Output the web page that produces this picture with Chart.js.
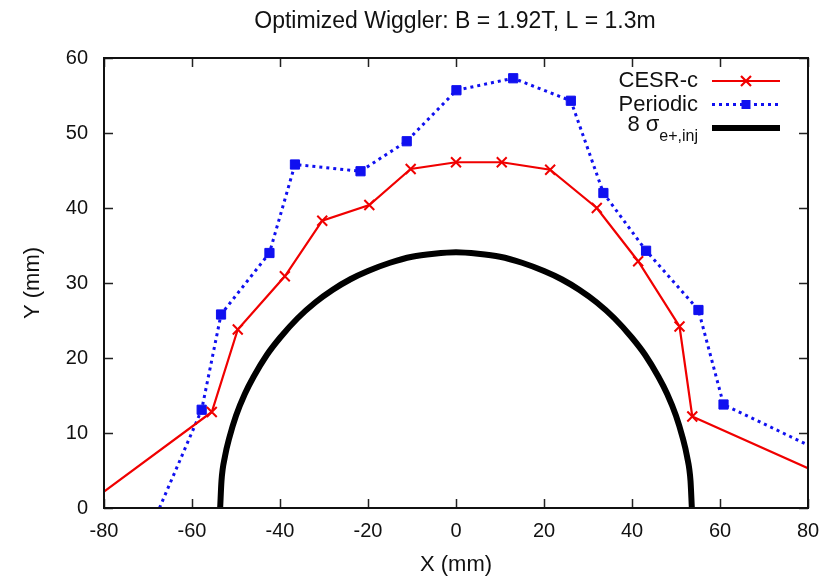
<!DOCTYPE html>
<html>
<head>
<meta charset="utf-8">
<script src="https://cdn.jsdelivr.net/npm/chart.js@4/dist/chart.umd.min.js"></script>
<style>
  html, body { margin: 0; padding: 0; background: #fff; }
  #wrap { width: 827px; height: 578px; position: relative; }
</style>
</head>
<body>
<div id="wrap"><canvas id="c" width="827" height="578"></canvas></div>
<script>
// ---- data ----
const titleText = 'Optimized Wiggler: B = 1.92T, L = 1.3m';
const xAxisTitle = 'X (mm)';
const yAxisTitle = 'Y (mm)';
const legendLabels = ['CESR-c', 'Periodic', '8 σ'];
const legendSub = 'e+,inj';

const cesrX = [-80, -55.5, -49.6, -38.9, -30.4, -19.7, -10.3, 0, 10.4, 21.4, 32.0, 41.4, 50.8, 53.7, 80];
const cesrY = [2.2, 12.8, 23.8, 30.9, 38.3, 40.4, 45.2, 46.1, 46.1, 45.1, 40.0, 32.9, 24.2, 12.2, 5.3];
const cesrMarker = [0, 1, 1, 1, 1, 1, 1, 1, 1, 1, 1, 1, 1, 1, 0];

const periodicX = [-67.4, -57.8, -53.4, -42.4, -36.6, -21.7, -11.2, 0.1, 13.0, 26.1, 33.5, 43.2, 55.1, 60.8, 80];
const periodicY = [0, 13.1, 25.8, 34.0, 45.8, 44.9, 48.9, 55.7, 57.3, 54.3, 42.0, 34.3, 26.4, 13.8, 8.4];
const periodicMarker = [0, 1, 1, 1, 1, 1, 1, 1, 1, 1, 1, 1, 1, 1, 0];

const envX = [-53.6, -53.3, -52.5, -51.5, -50, -48, -46, -43, -40, -36, -32, -28, -24, -20, -15, -10, -5, 0,
              5, 10, 15, 20, 24, 28, 32, 36, 40, 43, 46, 48, 50, 51.5, 52.5, 53.3, 53.6];
const envY = [0, 3.6, 6.9, 9.4, 12.3, 15.2, 17.5, 20.4, 22.7, 25.3, 27.4, 29.1, 30.5, 31.6, 32.7, 33.5, 33.9, 34.1,
              33.9, 33.5, 32.7, 31.6, 30.5, 29.1, 27.4, 25.3, 22.7, 20.4, 17.5, 15.2, 12.3, 9.4, 6.9, 3.6, 0];

const xTickValues = [-80, -60, -40, -20, 0, 20, 40, 60, 80];
const yTickValues = [0, 10, 20, 30, 40, 50, 60];

// ---- build chart ----
const toPts = (xs, ys) => xs.map((x, i) => ({ x: x, y: ys[i] }));
const RED = '#f00000';
const BLUE = '#1010f0';
const FONT = "'Liberation Sans', Arial, Helvetica, sans-serif";

const framePlugin = {
  id: 'framePlugin',
  afterDraw(chart) {
    const ctx = chart.ctx;
    const a = chart.chartArea;
    const xs = chart.scales.x, ys = chart.scales.y;
    ctx.save();
    // ticks inward on all sides
    ctx.strokeStyle = '#222';
    ctx.lineWidth = 1.5;
    const tl = 9;
    ctx.beginPath();
    xTickValues.forEach(v => {
      const px = Math.round(xs.getPixelForValue(v)) + 0.5;
      ctx.moveTo(px, a.bottom); ctx.lineTo(px, a.bottom - tl);
      ctx.moveTo(px, a.top); ctx.lineTo(px, a.top + tl);
    });
    yTickValues.forEach(v => {
      const py = Math.round(ys.getPixelForValue(v)) + 0.5;
      ctx.moveTo(a.left, py); ctx.lineTo(a.left + tl, py);
      ctx.moveTo(a.right, py); ctx.lineTo(a.right - tl, py);
    });
    ctx.stroke();
    // border
    ctx.strokeStyle = '#111';
    ctx.lineWidth = 2;
    ctx.strokeRect(a.left, a.top, a.right - a.left, a.bottom - a.top);

    // title
    ctx.fillStyle = '#111';
    ctx.font = '23px ' + FONT;
    ctx.textAlign = 'center';
    ctx.textBaseline = 'middle';
    ctx.fillText(titleText, 455, 22);

    // legend
    const textRight = 698, lx0 = 712, lx1 = 780, mx = 746;
    const rows = [81, 104.5, 128];
    ctx.font = '22px ' + FONT;
    ctx.textAlign = 'right';
    ctx.textBaseline = 'middle';
    ctx.fillText(legendLabels[0], textRight, rows[0]);
    ctx.fillText(legendLabels[1], textRight, rows[1]);
    // third with subscript
    ctx.font = '16px ' + FONT;
    const subW = ctx.measureText(legendSub).width;
    ctx.textAlign = 'left';
    ctx.fillText(legendSub, textRight - subW, 137);
    ctx.font = '22px ' + FONT;
    ctx.textAlign = 'right';
    ctx.fillText(legendLabels[2], textRight - subW, 125);

    // samples
    const ds = chart.data.datasets;
    // CESR-c
    ctx.setLineDash([]);
    ctx.strokeStyle = ds[0].borderColor; ctx.lineWidth = ds[0].borderWidth;
    ctx.beginPath(); ctx.moveTo(lx0, rows[0]); ctx.lineTo(lx1, rows[0]); ctx.stroke();
    const r = 5;
    ctx.beginPath();
    ctx.moveTo(mx - r, rows[0] - r); ctx.lineTo(mx + r, rows[0] + r);
    ctx.moveTo(mx - r, rows[0] + r); ctx.lineTo(mx + r, rows[0] - r);
    ctx.stroke();
    // Periodic
    ctx.setLineDash(ds[1].borderDash);
    ctx.strokeStyle = ds[1].borderColor; ctx.lineWidth = ds[1].borderWidth;
    ctx.beginPath(); ctx.moveTo(lx0, rows[1]); ctx.lineTo(lx1, rows[1]); ctx.stroke();
    ctx.setLineDash([]);
    ctx.fillStyle = ds[1].pointBackgroundColor;
    ctx.fillRect(mx - 4.5, rows[1] - 4.5, 9, 9);
    // envelope
    ctx.strokeStyle = ds[2].borderColor; ctx.lineWidth = ds[2].borderWidth;
    ctx.beginPath(); ctx.moveTo(lx0, rows[2]); ctx.lineTo(lx1, rows[2]); ctx.stroke();
    ctx.restore();
  }
};

new Chart(document.getElementById('c'), {
  type: 'scatter',
  data: {
    datasets: [
      {
        label: legendLabels[0],
        data: toPts(cesrX, cesrY),
        showLine: true,
        borderColor: RED,
        backgroundColor: RED,
        borderWidth: 2.2,
        pointStyle: 'crossRot',
        pointRadius: cesrMarker.map(m => m ? 7 : 0),
        pointBorderWidth: 2,
        pointBorderColor: RED,
        clip: 0,
        order: 2
      },
      {
        label: legendLabels[1],
        data: toPts(periodicX, periodicY),
        showLine: true,
        borderColor: BLUE,
        backgroundColor: BLUE,
        borderWidth: 3,
        borderDash: [3, 4],
        borderCapStyle: 'butt',
        pointStyle: 'rect',
        pointRadius: periodicMarker.map(m => m ? 6.5 : 0),
        pointBackgroundColor: BLUE,
        pointBorderColor: BLUE,
        pointBorderWidth: 1,
        clip: 0,
        order: 3
      },
      {
        label: legendLabels[2],
        data: toPts(envX, envY),
        showLine: true,
        borderColor: '#000',
        borderWidth: 6,
        pointRadius: 0,
        cubicInterpolationMode: 'monotone',
        clip: 0,
        order: 1
      }
    ]
  },
  options: {
    responsive: false,
    animation: false,
    devicePixelRatio: 1,
    layout: { padding: { left: 0, right: 19, top: 58, bottom: 0 } },
    plugins: {
      legend: { display: false },
      title: { display: false },
      tooltip: { enabled: false }
    },
    scales: {
      x: {
        type: 'linear',
        min: -80, max: 80,
        afterFit: s => { s.height = 70; s.paddingLeft = 0; s.paddingRight = 0; },
        afterBuildTicks: s => { s.ticks = xTickValues.map(v => ({ value: v })); },
        grid: { display: false, drawTicks: false },
        border: { display: false },
        ticks: { color: '#111', font: { family: FONT, size: 20 }, padding: 11, maxRotation: 0, autoSkip: false },
        title: { display: true, text: xAxisTitle, color: '#111', font: { family: FONT, size: 22 }, padding: { top: 0, bottom: 0 } }
      },
      y: {
        type: 'linear',
        min: 0, max: 60,
        afterFit: s => { s.width = 104; s.paddingTop = 0; s.paddingBottom = 0; },
        afterBuildTicks: s => { s.ticks = yTickValues.map(v => ({ value: v })); },
        grid: { display: false, drawTicks: false },
        border: { display: false },
        ticks: { color: '#111', font: { family: FONT, size: 20 }, padding: 16, autoSkip: false },
        title: { display: true, text: yAxisTitle, color: '#111', font: { family: FONT, size: 22 }, padding: { top: 20, bottom: 0 } }
      }
    }
  },
  plugins: [framePlugin]
});
</script>
</body>
</html>
